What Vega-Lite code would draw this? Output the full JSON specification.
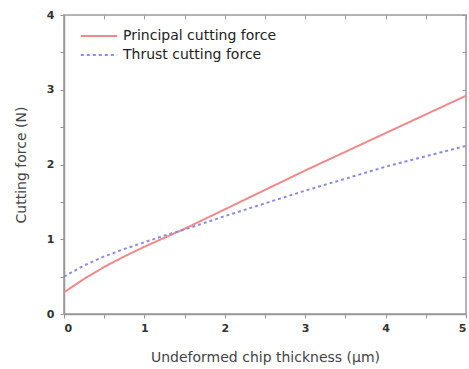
{
  "$schema": "https://vega.github.io/schema/vega-lite/v6.json",
  "width": 402,
  "height": 299,
  "autosize": "none",
  "padding": {"left": 64, "top": 15, "right": 3, "bottom": 55},
  "background": "white",
  "config": {
    "view": {"stroke": "#999", "strokeWidth": 1.5},
    "font": "DejaVu Sans",
    "axis": {"grid": false, "domainColor": "#999", "domainWidth": 1.5, "tickColor": "#999", "labelColor": "#333", "titleColor": "#444", "labelFontSize": 11, "labelFontWeight": "bold", "titleFontSize": 14, "titleFontWeight": "normal"}
  },
  "datasets": {
    "curves": [
      {"t": 0, "F": 0.29, "s": "Principal cutting force"},
      {"t": 0.25, "F": 0.47, "s": "Principal cutting force"},
      {"t": 0.5, "F": 0.63, "s": "Principal cutting force"},
      {"t": 0.75, "F": 0.77, "s": "Principal cutting force"},
      {"t": 1, "F": 0.9, "s": "Principal cutting force"},
      {"t": 1.25, "F": 1.02, "s": "Principal cutting force"},
      {"t": 1.5, "F": 1.14, "s": "Principal cutting force"},
      {"t": 1.75, "F": 1.27, "s": "Principal cutting force"},
      {"t": 2, "F": 1.4, "s": "Principal cutting force"},
      {"t": 2.5, "F": 1.66, "s": "Principal cutting force"},
      {"t": 3, "F": 1.92, "s": "Principal cutting force"},
      {"t": 3.5, "F": 2.17, "s": "Principal cutting force"},
      {"t": 4, "F": 2.42, "s": "Principal cutting force"},
      {"t": 4.5, "F": 2.67, "s": "Principal cutting force"},
      {"t": 5, "F": 2.92, "s": "Principal cutting force"},
      {"t": 0, "F": 0.5, "s": "Thrust cutting force"},
      {"t": 0.25, "F": 0.65, "s": "Thrust cutting force"},
      {"t": 0.5, "F": 0.77, "s": "Thrust cutting force"},
      {"t": 0.75, "F": 0.87, "s": "Thrust cutting force"},
      {"t": 1, "F": 0.96, "s": "Thrust cutting force"},
      {"t": 1.25, "F": 1.05, "s": "Thrust cutting force"},
      {"t": 1.5, "F": 1.13, "s": "Thrust cutting force"},
      {"t": 1.75, "F": 1.22, "s": "Thrust cutting force"},
      {"t": 2, "F": 1.31, "s": "Thrust cutting force"},
      {"t": 2.5, "F": 1.48, "s": "Thrust cutting force"},
      {"t": 3, "F": 1.65, "s": "Thrust cutting force"},
      {"t": 3.5, "F": 1.81, "s": "Thrust cutting force"},
      {"t": 4, "F": 1.97, "s": "Thrust cutting force"},
      {"t": 4.5, "F": 2.11, "s": "Thrust cutting force"},
      {"t": 5, "F": 2.25, "s": "Thrust cutting force"}
    ]
  },
  "resolve": {"axis": {"x": "independent", "y": "independent"}},
  "layer": [
    {
      "data": {"name": "curves"},
      "mark": {"type": "line", "strokeWidth": 2, "clip": true},
      "encoding": {
        "x": {"field": "t", "type": "quantitative", "scale": {"domain": [0, 5], "nice": false}, "title": "Undeformed chip thickness (μm)",
          "axis": {"values": [0, 0.5, 1, 1.5, 2, 2.5, 3, 3.5, 4, 4.5, 5], "format": "~g", "labelExpr": "datum.value % 1 == 0 ? datum.label : ''", "tickSize": 4, "labelPadding": 4, "titlePadding": 17}},
        "y": {"field": "F", "type": "quantitative", "scale": {"domain": [0, 4], "nice": false}, "title": "Cutting force (N)",
          "axis": {"values": [0, 0.5, 1, 1.5, 2, 2.5, 3, 3.5, 4], "format": "~g", "labelExpr": "datum.value % 1 == 0 ? datum.label : ''", "tickSize": 4, "labelPadding": 6, "titlePadding": 18}},
        "color": {"field": "s", "type": "nominal", "scale": {"domain": ["Principal cutting force", "Thrust cutting force"], "range": ["#f08a8a", "#8c8ce0"]},
          "legend": {"orient": "none", "legendX": 25, "legendY": 11, "title": null, "symbolType": "M-2.1,0H2.1", "symbolSize": 300, "symbolStrokeWidth": 2, "labelFontSize": 14, "labelFontWeight": "normal", "labelColor": "#222", "labelLimit": 300, "rowPadding": 2, "labelOffset": 14}},
        "strokeDash": {"field": "s", "type": "nominal", "scale": {"domain": ["Principal cutting force", "Thrust cutting force"], "range": [[1, 0], [3, 3]]}, "legend": null}
      }
    },
    {
      "data": {"name": "curves"},
      "mark": {"type": "point", "opacity": 0},
      "encoding": {
        "x": {"field": "t", "type": "quantitative", "scale": {"domain": [0, 5], "nice": false},
          "axis": {"orient": "top", "title": null, "labels": false, "domain": false, "values": [0, 0.5, 1, 1.5, 2, 2.5, 3, 3.5, 4, 4.5, 5], "tickSize": -4}},
        "y": {"field": "F", "type": "quantitative", "scale": {"domain": [0, 4], "nice": false},
          "axis": {"orient": "right", "title": null, "labels": false, "domain": false, "values": [0, 0.5, 1, 1.5, 2, 2.5, 3, 3.5, 4], "tickSize": -4}}
      }
    }
  ]
}
